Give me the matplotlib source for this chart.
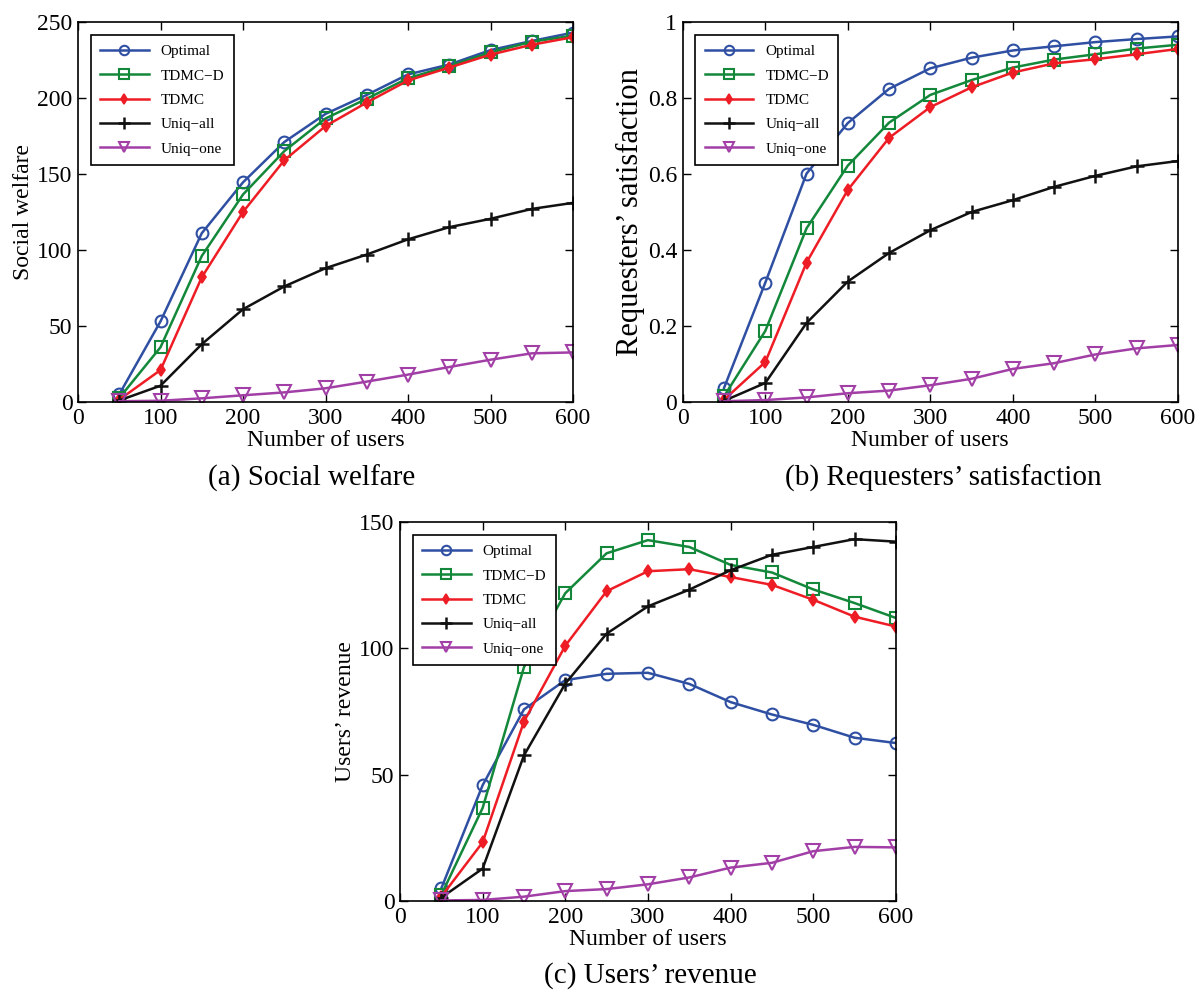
import matplotlib
matplotlib.use('Agg')
import matplotlib.pyplot as plt

plt.rcParams['font.family'] = ['Liberation Serif', 'DejaVu Serif']
plt.rcParams['mathtext.fontset'] = 'stix'

users = [50, 100, 150, 200, 250, 300, 350, 400, 450, 500, 550, 600]
names = ['Optimal', 'TDMC\u2212D', 'TDMC', 'Uniq\u2212all', 'Uniq\u2212one']

# (a) social welfare
welfare_optimal = [5, 53, 111, 144.5, 171, 189.5, 202, 215.5, 222, 231.5, 237.5, 243]
welfare_tdmcd = [2.6, 36, 96, 136.5, 165, 186.5, 199.5, 213, 221, 230, 237, 241]
welfare_tdmc = [1.5, 21, 82, 125, 159, 181.5, 197, 211.5, 220, 228.5, 235, 240]
welfare_all = [1, 10.7, 38, 61, 76, 88, 97, 107, 115, 120.5, 127, 131]
welfare_one = [0.5, 0.8, 2.4, 4.4, 6.3, 9, 13.4, 18, 23, 27.8, 32, 32.6]

# (b) requesters' satisfaction
sat_optimal = [0.037, 0.314, 0.601, 0.734, 0.824, 0.878, 0.906, 0.925, 0.936, 0.947, 0.955, 0.962]
sat_tdmcd = [0.015, 0.187, 0.457, 0.622, 0.735, 0.808, 0.847, 0.880, 0.901, 0.915, 0.930, 0.940]
sat_tdmc = [0.006, 0.105, 0.367, 0.558, 0.695, 0.776, 0.828, 0.867, 0.891, 0.902, 0.915, 0.929]
sat_all = [0.003, 0.05, 0.208, 0.317, 0.392, 0.452, 0.5, 0.531, 0.566, 0.595, 0.62, 0.634]
sat_one = [0.002, 0.005, 0.012, 0.023, 0.03, 0.044, 0.061, 0.087, 0.102, 0.125, 0.141, 0.15]

# (c) users' revenue
rev_optimal = [5, 45.8, 75.8, 87.4, 89.9, 90.3, 85.9, 78.7, 73.8, 69.7, 64.6, 62.5]
rev_tdmcd = [2.4, 36.8, 92.5, 121.8, 137.6, 142.8, 140.1, 133, 130, 123.3, 117.9, 112]
rev_tdmc = [1.7, 23.2, 71, 101, 122.6, 130.5, 131.3, 128.2, 125.1, 119.2, 112.5, 108.6]
rev_all = [1.3, 12.8, 57.6, 86, 105.8, 116.6, 123.2, 130.9, 137, 140.1, 143.2, 142.2]
rev_one = [0.2, 0.4, 1.7, 3.9, 4.7, 6.6, 9.3, 13.2, 15.1, 19.7, 21.4, 21.2]

styles = [
    dict(color='#2f4fa2', marker='o', ms=8.5, mfc='none', mew=1.5),
    dict(color='#13883a', marker='s', ms=8.5, mfc='none', mew=1.5),
    dict(color='#ee1c24', marker='d', ms=6, mfc='#ee1c24', mew=1.2),
    dict(color='#111111', marker='+', ms=10, mew=1.8),
    dict(color='#a23fa6', marker='v', ms=9.5, mfc='none', mew=1.5),
]


def draw(ax, series, ylim, yticks, yticklabels, ylabel, ylabel_size):
    for vals, name, st in zip(series, names, styles):
        ax.plot(users, vals, lw=1.8, label=name, **st)
    ax.set_xlim(0, 600)
    ax.set_ylim(*ylim)
    ax.set_xticks(range(0, 601, 100))
    ax.set_yticks(yticks)
    ax.set_yticklabels(yticklabels)
    ax.tick_params(direction='in', top=True, right=True, length=6, width=1,
                   labelsize=17, pad=4)
    for sp in ax.spines.values():
        sp.set_linewidth(1.2)
    ax.set_xlabel('Number of users', fontsize=17, labelpad=1)
    ax.set_ylabel(ylabel, fontsize=ylabel_size, labelpad=2)
    leg = ax.legend(loc='upper left', fontsize=11, fancybox=False, framealpha=1,
                    edgecolor='black', handlelength=3.2, borderpad=0.6,
                    labelspacing=0.7, markerscale=0.8,
                    bbox_to_anchor=(0.01, 0.985))
    leg.get_frame().set_linewidth(1.2)


fig = plt.figure(figsize=(12, 9.94), dpi=100)

ax1 = fig.add_axes([0.065, 0.5956, 0.4125, 0.3823])
draw(ax1, [welfare_optimal, welfare_tdmcd, welfare_tdmc, welfare_all, welfare_one],
     (0, 250), [0, 50, 100, 150, 200, 250], ['0', '50', '100', '150', '200', '250'],
     'Social welfare', 17)

ax2 = fig.add_axes([0.569, 0.5956, 0.4125, 0.3823])
draw(ax2, [sat_optimal, sat_tdmcd, sat_tdmc, sat_all, sat_one],
     (0, 1), [0, 0.2, 0.4, 0.6, 0.8, 1], ['0', '0.2', '0.4', '0.6', '0.8', '1'],
     'Requesters\u2019 satisfaction', 22)

ax3 = fig.add_axes([0.3333, 0.0936, 0.4133, 0.3813])
draw(ax3, [rev_optimal, rev_tdmcd, rev_tdmc, rev_all, rev_one],
     (0, 150), [0, 50, 100, 150], ['0', '50', '100', '150'],
     'Users\u2019 revenue', 17)

fig.text(0.26, 0.519, '(a) Social welfare', fontsize=21, ha='center', va='center')
fig.text(0.786, 0.519, '(b) Requesters\u2019 satisfaction', fontsize=21, ha='center', va='center')
fig.text(0.542, 0.019, '(c) Users\u2019 revenue', fontsize=21, ha='center', va='center')

fig.savefig('out.png', dpi=100)
